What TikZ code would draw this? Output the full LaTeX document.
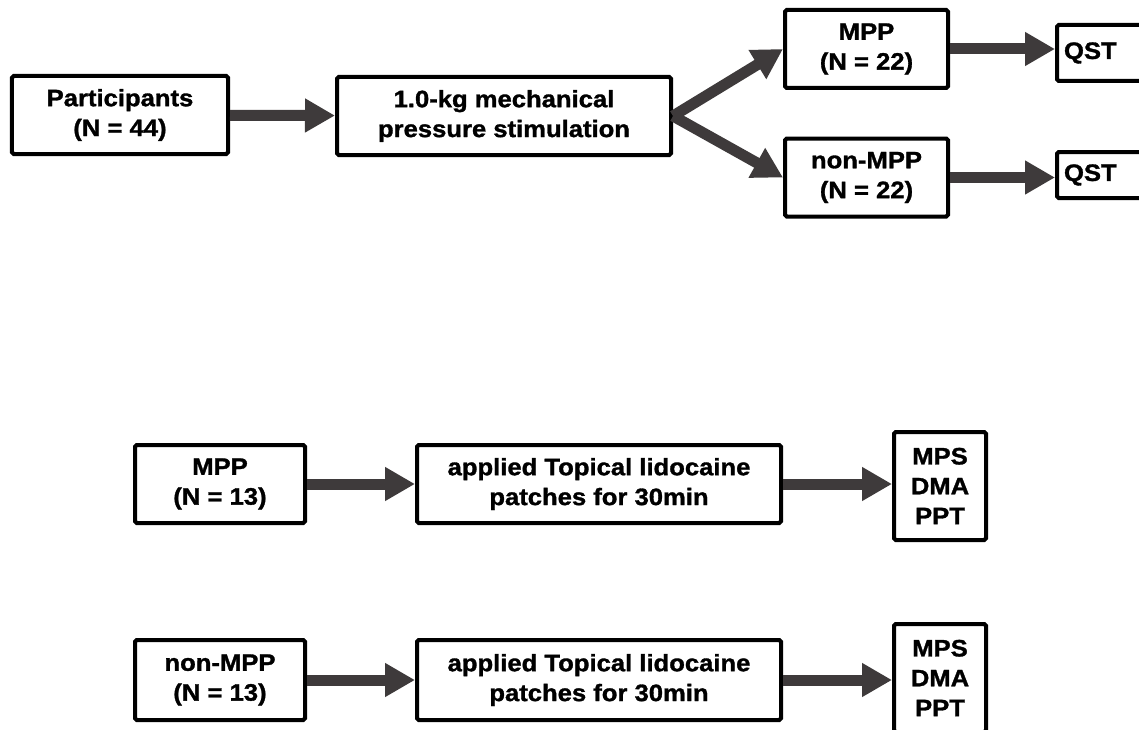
\documentclass[tikz,border=0pt]{standalone}
\usepackage{fontspec}
\setmainfont{Liberation Sans}[FakeStretch=1.08, BoldFeatures={FakeBold=1.3}]
\usepackage{xcolor}
\usepackage{tikz}
\usetikzlibrary{arrows.meta,positioning,calc}
\definecolor{arrgray}{RGB}{62,58,59}

\begin{document}
\begin{tikzpicture}[
  box/.style={draw, line width=0.08cm, rounded corners=1pt, align=center, inner sep=0pt, fill=white,
    font=\fontsize{13.5}{17}\selectfont\bfseries, minimum height=1.56cm},
  qst/.style={box, align=left, text width=2.2cm, inner xsep=0.14cm},
  arr/.style={-{Triangle[length=0.6cm, width=0.64cm]}, line width=0.22cm, arrgray}]
\useasboundingbox (0,0) rectangle (22.78,-14.58);
\clip (0,0) rectangle (22.78,-14.58);
% upper flow
\node[box, minimum width=4.32cm] (part) at (2.40,-2.30) {Participants\\(N = 44)};
\node[box, minimum width=6.68cm] (mech) at (10.08,-2.32) {1.0-kg mechanical\\pressure stimulation};
\node[box, minimum width=3.26cm] (mppA) at (17.33,-0.98) {MPP\\(N = 22)};
\node[box, minimum width=3.26cm] (nonA) at (17.33,-3.55) {non-MPP\\(N = 22)};
\node[qst, minimum height=1.12cm, anchor=west] (qstA) at (21.10,-1.06) {QST};
\node[qst, minimum height=0.92cm, anchor=west] (qstB) at (21.10,-3.50) {QST};
% lidocaine rows
\node[box, minimum width=3.40cm] (mppB) at (4.40,-9.68) {MPP\\(N = 13)};
\node[box, minimum width=7.28cm] (appB) at (11.98,-9.68) {applied Topical lidocaine\\patches for 30min};
\node[box, minimum width=1.84cm, minimum height=2.16cm] (mpsB) at (18.80,-9.72) {MPS\\DMA\\PPT};
\node[box, minimum width=3.40cm, minimum height=1.60cm] (nonC) at (4.40,-13.60) {non-MPP\\(N = 13)};
\node[box, minimum width=7.28cm, minimum height=1.60cm] (appC) at (11.98,-13.60) {applied Topical lidocaine\\patches for 30min};
\node[box, minimum width=1.84cm, minimum height=2.16cm] (mpsC) at (18.80,-13.56) {MPS\\DMA\\PPT};
\draw[arr] (part) -- (mech);
\draw[arr] (mech.east) -- (mppA.west);
\draw[arr] (mech.east) -- (nonA.west);
\draw[arr] (mppA.east) -- (mppA.east -| qstA.west);
\draw[arr] (nonA.east) -- (nonA.east -| qstB.west);
\draw[arr] (mppB) -- (appB);
\draw[arr] (appB.east) -- (appB.east -| mpsB.west);
\draw[arr] (nonC) -- (appC);
\draw[arr] (appC.east) -- (appC.east -| mpsC.west);
\end{tikzpicture}
\end{document}
